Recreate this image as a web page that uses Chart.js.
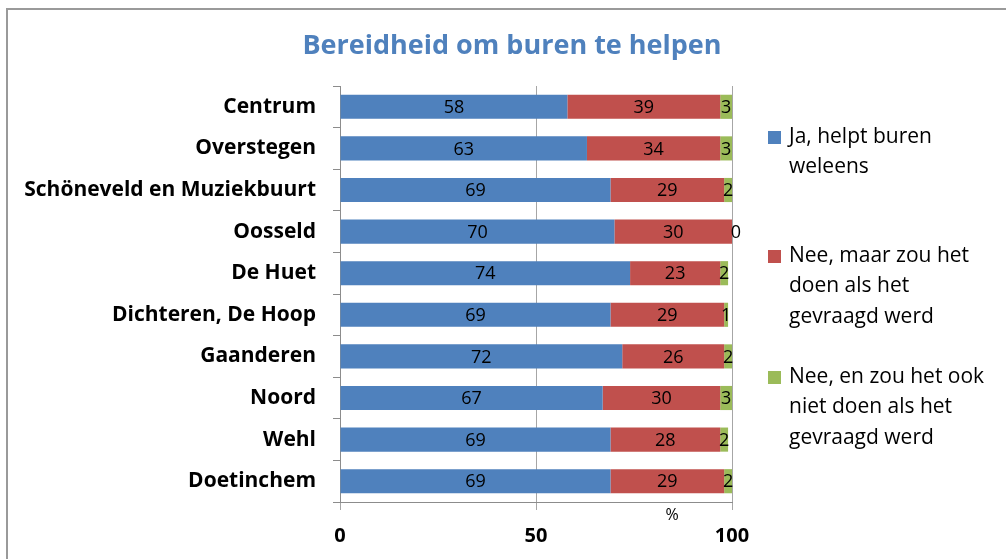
<!DOCTYPE html>
<html>
<head>
<meta charset="utf-8">
<script src="https://cdn.jsdelivr.net/npm/chart.js@4/dist/chart.umd.min.js"></script>
<style>
  html, body { margin: 0; padding: 0; background: #fff; }
  #wrap { position: relative; width: 1006px; height: 559px; }
  #frame { position: absolute; left: 6px; top: 8px; right: 0; bottom: 0;
           border-top: 2px solid #9a9a9a; border-left: 2px solid #9a9a9a; }
  canvas { position: absolute; left: 0; top: 0; }
</style>
</head>
<body>
<div id="wrap">
  <div id="frame"></div>
  <canvas id="chart" width="1006" height="559"></canvas>
</div>
<script>
const TITLE = 'Bereidheid om buren te helpen';
const categories = ['Centrum', 'Overstegen', 'Schöneveld en Muziekbuurt', 'Oosseld', 'De Huet',
                    'Dichteren, De Hoop', 'Gaanderen', 'Noord', 'Wehl', 'Doetinchem'];
const jaHelpt    = [58, 63, 69, 70, 74, 69, 72, 67, 69, 69];
const neeMaarWel = [39, 34, 29, 30, 23, 29, 26, 30, 28, 29];
const neeNooit   = [3, 3, 2, 0, 2, 1, 2, 3, 2, 2];
const seriesNames = [
  ['Ja, helpt buren', 'weleens'],
  ['Nee, maar zou het', 'doen als het', 'gevraagd werd'],
  ['Nee, en zou het ook', 'niet doen als het', 'gevraagd werd'],
];
const xTicks = [0, 50, 100];
const AXIS_UNIT = '%';

const COLORS = ['#4F81BD', '#C0504D', '#9BBB59'];
const FONT   = '"Open Sans", "Noto Sans", sans-serif';

const extras = {
  id: 'extras',
  afterDatasetsDraw(chart) {
    const ctx = chart.ctx;
    ctx.save();
    ctx.fillStyle = '#000';
    ctx.font = `18px ${FONT}`;
    ctx.textAlign = 'center';
    ctx.textBaseline = 'middle';
    chart.data.datasets.forEach((ds, di) => {
      chart.getDatasetMeta(di).data.forEach((bar, i) => {
        const cx = (bar.x + bar.base) / 2;
        const x  = ds.data[i] === 0 ? bar.x + 4 : cx;
        ctx.fillText(String(ds.data[i]), x, bar.y + 1);
      });
    });
    ctx.restore();
  },
  afterDraw(chart) {
    const ctx = chart.ctx;
    ctx.save();
    // titel
    ctx.fillStyle = '#4F81BD';
    ctx.font = `bold 27px ${FONT}`;
    ctx.textAlign = 'center';
    ctx.textBaseline = 'middle';
    ctx.fillText(TITLE, 512, 46);
    // eenheid
    ctx.fillStyle = '#000';
    ctx.font = `16px ${FONT}`;
    ctx.fillText(AXIS_UNIT, 672, 515);
    // legenda
    const starts = [137, 256, 377];
    ctx.font = `21px ${FONT}`;
    ctx.textAlign = 'left';
    seriesNames.forEach((lines, si) => {
      ctx.fillStyle = COLORS[si];
      ctx.fillRect(768, starts[si] - 6, 13, 13);
      ctx.fillStyle = '#000';
      lines.forEach((ln, li) => ctx.fillText(ln, 789, starts[si] + li * 30.5));
    });
    ctx.restore();
  },
};

new Chart(document.getElementById('chart'), {
  type: 'bar',
  data: {
    labels: categories,
    datasets: [jaHelpt, neeMaarWel, neeNooit].map((d, i) => ({
      label: seriesNames[i].join(' '),
      data: d,
      backgroundColor: COLORS[i],
      borderWidth: 0,
      categoryPercentage: 0.58,
      barPercentage: 1,
    })),
  },
  options: {
    indexAxis: 'y',
    responsive: false,
    animation: false,
    layout: { padding: { left: 0, right: 274, top: 86, bottom: 0 } },
    plugins: { legend: { display: false }, title: { display: false }, tooltip: { enabled: false } },
    scales: {
      x: {
        stacked: true, min: 0, max: 100,
        afterBuildTicks: s => { s.ticks = xTicks.map(v => ({ value: v })); },
        afterFit: s => { s.height = 57; },
        border: { color: '#8c8c8c', width: 1 },
        grid: { color: '#a6a6a6', lineWidth: 1, tickLength: 8 },
        ticks: { color: '#000', font: { family: FONT, size: 20, weight: 'bold' }, padding: 14 },
      },
      y: {
        stacked: true,
        afterFit: s => { s.width = 340; },
        border: { color: '#8c8c8c', width: 1 },
        grid: { offset: true, drawOnChartArea: false, tickLength: 7, color: '#8c8c8c' },
        ticks: { color: '#000', font: { family: FONT, size: 21, weight: 'bold' }, padding: 17 },
      },
    },
  },
  plugins: [extras],
});
</script>
</body>
</html>
